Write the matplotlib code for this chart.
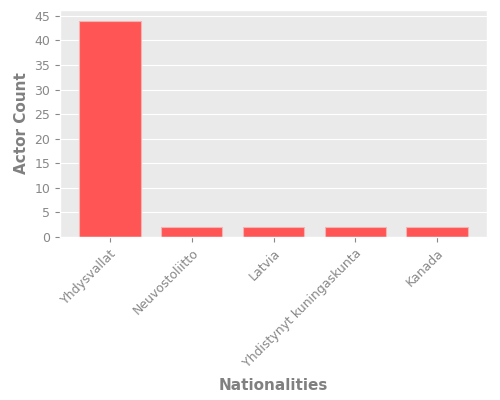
import matplotlib
matplotlib.use("Agg")
import matplotlib.pyplot as plt

# Datos
nacionalidades = ["Yhdysvallat", "Neuvostoliitto", "Latvia",
                  "Yhdistynyt kuningaskunta", "Kanada"]
cantidades = [44, 2, 2, 2, 2]

plt.style.use("ggplot")

fig = plt.figure(figsize=(5, 4), dpi=100)
ax = fig.add_axes([0.12, 0.4075, 0.854, 0.5675])
ax.set_facecolor("#EAEAEA")
ax.grid(axis="x", visible=False)
ax.grid(axis="y", color="white", linewidth=0.8)

ax.bar(nacionalidades, cantidades, width=0.75, color="#FF5555",
       edgecolor="#F4B4B4", linewidth=0.8)

ax.set_ylim(0, 46.2)
ax.set_yticks(range(0, 46, 5))
ax.set_ylabel("Actor Count", fontweight="bold", color="#808080", fontsize=11)
ax.set_xlabel("Nationalities", fontweight="bold", color="#808080",
              fontsize=11, labelpad=6)
ax.tick_params(axis="both", colors="#888888", labelsize=9)
plt.setp(ax.get_xticklabels(), rotation=45, ha="right", rotation_mode="anchor")

fig.savefig("out.png", dpi=100)
